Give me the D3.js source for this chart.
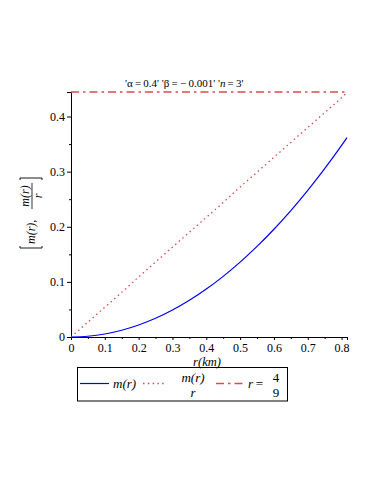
<!DOCTYPE html>
<html>
<head>
<meta charset="utf-8">
<script src="https://cdn.jsdelivr.net/npm/d3@7"></script>
<style>
  body { margin: 0; background: #fff; }
</style>
</head>
<body>
<div id="chart"></div>
<script>
// values
const rValues = [0, 0.05, 0.1, 0.15, 0.2, 0.25, 0.3, 0.35, 0.4, 0.45, 0.5, 0.55, 0.6, 0.65, 0.7, 0.75, 0.8, 0.816];
const mValues = [0, 0.0014, 0.0054, 0.0122, 0.0217, 0.0339, 0.0489, 0.0665, 0.0869, 0.110, 0.1358, 0.1643, 0.1955, 0.2294, 0.2661, 0.3054, 0.3475, 0.3616];
const mOverR = [0, 0.027, 0.054, 0.081, 0.109, 0.136, 0.163, 0.190, 0.217, 0.244, 0.272, 0.299, 0.326, 0.353, 0.380, 0.407, 0.434, 0.443];
const hLine = 4 / 9;
const xTicks = [0, 0.1, 0.2, 0.3, 0.4, 0.5, 0.6, 0.7, 0.8];
const yTicks = [0, 0.1, 0.2, 0.3, 0.4];

const width = 374, height = 484;
const svg = d3.select("#chart").append("svg")
  .attr("width", width).attr("height", height)
  .attr("font-family", "Liberation Serif");

const x = d3.scaleLinear().domain([0, 0.816]).range([71, 347]);
const y = d3.scaleLinear().domain([0, hLine]).range([337, 92]);

const blue = "#0000ff", red = "#d94c4c";
const DOT = "1.5,3.3", DASHDOT = "8,4,2.5,4";

// axes
const fmt = d => d === 0 ? "0" : d3.format(".1f")(d);
const xAxis = d3.axisBottom(x).tickValues(xTicks).tickSize(3).tickPadding(3).tickFormat(fmt);
const xMinor = d3.axisBottom(x).tickValues(d3.range(0.05, 0.81, 0.1)).tickSize(2).tickFormat("");
const yAxis = d3.axisLeft(y).tickValues(yTicks).tickSize(4).tickPadding(2).tickFormat(fmt);
const yMinor = d3.axisLeft(y).tickValues([0.05, 0.15, 0.25, 0.35]).tickSize(2).tickFormat("");

function styleAxis(g) {
  g.attr("font-family", "Liberation Serif").attr("font-size", 12);
  g.select(".domain").attr("stroke", "#000").attr("stroke-width", 1);
  g.selectAll(".tick line").attr("stroke", "#000");
}

svg.append("g").attr("transform", "translate(0,337)").call(xAxis).call(styleAxis);
svg.append("g").attr("transform", "translate(0,337)").call(xMinor).call(styleAxis);
svg.append("g").attr("transform", "translate(71,0)").call(yAxis).call(styleAxis);
svg.append("g").attr("transform", "translate(71,0)").call(yMinor).call(styleAxis);

// lines
const line = d3.line().curve(d3.curveMonotoneX).x((d, i) => x(rValues[i])).y(d => y(d));

svg.append("path").datum(mOverR)
  .attr("d", line).attr("fill", "none")
  .attr("stroke", red).attr("stroke-width", 1.3).attr("stroke-dasharray", DOT);

svg.append("path").datum(mValues)
  .attr("d", line).attr("fill", "none")
  .attr("stroke", blue).attr("stroke-width", 1.2);

svg.append("line")
  .attr("x1", x(0)).attr("x2", x(0.816))
  .attr("y1", y(hLine)).attr("y2", y(hLine))
  .attr("stroke", red).attr("stroke-width", 1.3).attr("stroke-dasharray", DASHDOT);

// title
svg.append("text").attr("x", 125).attr("y", 87).attr("font-size", 11)
  .html("'α\u2009=\u20090.4' 'β\u2009=\u2009\u2212\u20090.001' '<tspan font-style='italic'>n</tspan>\u2009=\u20093'");

// x label
svg.append("text").attr("x", 207).attr("y", 366).attr("text-anchor", "middle")
  .attr("font-size", 12.5).attr("font-style", "italic").text("r(km)");

// y label (rotated)
const yl = svg.append("g").attr("transform", "translate(30,213) rotate(-90)");
yl.append("path").attr("d", "M-33,-10 L-35,-10 L-35,12 L-33,12").attr("fill", "none").attr("stroke", "#000").attr("stroke-width", 0.9);
yl.append("path").attr("d", "M33,-10 L35,-10 L35,12 L33,12").attr("fill", "none").attr("stroke", "#000").attr("stroke-width", 0.9);
yl.append("text").attr("x", -31).attr("y", 5).attr("font-size", 12).attr("font-style", "italic").text("m(r),");
yl.append("text").attr("x", 17).attr("y", -1).attr("text-anchor", "middle").attr("font-size", 12).attr("font-style", "italic").text("m(r)");
yl.append("line").attr("x1", 4).attr("x2", 30).attr("y1", 2).attr("y2", 2).attr("stroke", "#000").attr("stroke-width", 0.8);
yl.append("text").attr("x", 17).attr("y", 12).attr("text-anchor", "middle").attr("font-size", 12).attr("font-style", "italic").text("r");

// legend
const lg = svg.append("g");
lg.append("rect").attr("x", 77.5).attr("y", 367.5).attr("width", 210).attr("height", 33.5)
  .attr("fill", "none").attr("stroke", "#000").attr("stroke-width", 1);
const ly = 383.5;
lg.append("line").attr("x1", 80).attr("x2", 109).attr("y1", ly).attr("y2", ly).attr("stroke", blue).attr("stroke-width", 1.2);
lg.append("text").attr("x", 113).attr("y", 387.5).attr("font-size", 13).attr("font-style", "italic").text("m(r)");
lg.append("line").attr("x1", 143).attr("x2", 167).attr("y1", ly).attr("y2", ly).attr("stroke", red).attr("stroke-width", 1.3).attr("stroke-dasharray", DOT);
lg.append("text").attr("x", 193).attr("y", 382).attr("text-anchor", "middle").attr("font-size", 13).attr("font-style", "italic").text("m(r)");
lg.append("text").attr("x", 193).attr("y", 397).attr("text-anchor", "middle").attr("font-size", 13).attr("font-style", "italic").text("r");
lg.append("line").attr("x1", 216).attr("x2", 243).attr("y1", ly).attr("y2", ly).attr("stroke", red).attr("stroke-width", 1.3).attr("stroke-dasharray", DASHDOT);
lg.append("text").attr("x", 248).attr("y", 387.5).attr("font-size", 13).html("<tspan font-style='italic'>r</tspan>\u2009=");
lg.append("text").attr("x", 276).attr("y", 382).attr("text-anchor", "middle").attr("font-size", 13).text("4");
lg.append("text").attr("x", 276).attr("y", 397).attr("text-anchor", "middle").attr("font-size", 13).text("9");
</script>
</body>
</html>
